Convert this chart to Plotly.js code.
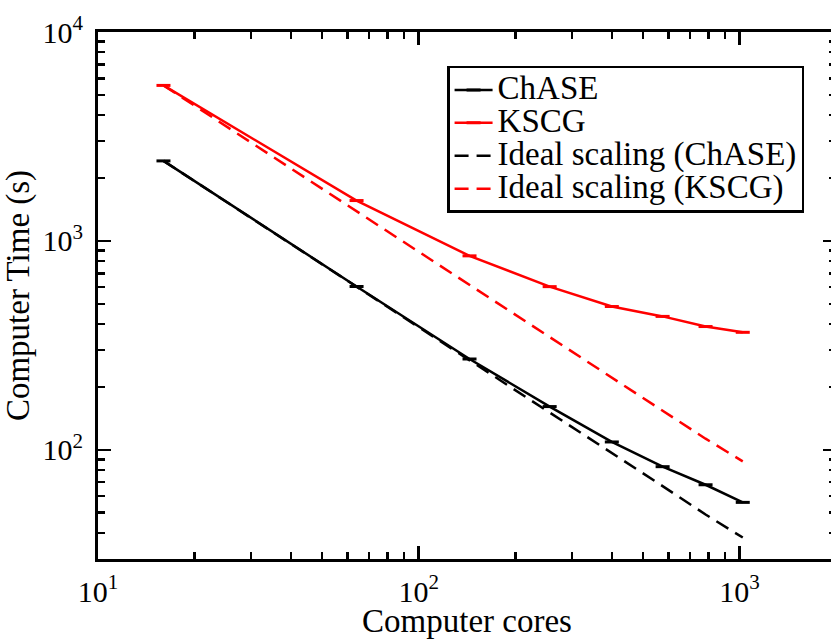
<!DOCTYPE html>
<html>
<head>
<meta charset="utf-8">
<script src="https://cdn.plot.ly/plotly-3.0.1.min.js"></script>
<style>
html, body { margin: 0; padding: 0; overflow: hidden; background: #fff; }
#chart { width: 840px; height: 639px; }
</style>
</head>
<body>
<div id="chart"></div>
<script>
// Data
var cores = [16, 64, 144, 256, 400, 576, 784, 1024];
var chaseTime = [2415, 605, 272, 161, 109, 83, 68, 56];
var kscgTime = [5550, 1560, 848, 604, 485, 435, 389, 365];
var idealChase = [2415, 604, 268, 151, 97, 67, 49, 38];
var idealKscg = [5550, 1390, 617, 347, 222, 154, 113, 88];
var seriesNames = ['ChASE', 'KSCG', 'Ideal scaling (ChASE)', 'Ideal scaling (KSCG)'];

var xTickVals = [10, 100, 1000];
var xTickText = ['10<sup>1</sup>', '10<sup>2</sup>', '10<sup>3</sup>'];
var yTickVals = [100, 1000, 10000];
var yTickText = ['10<sup>2</sup>', '10<sup>3</sup>', '10<sup>4</sup>'];

function minorVals(d0, d1) {
  var v = [];
  for (var d = d0; d <= d1; d++) {
    for (var k = 2; k <= 9; k++) v.push(k * Math.pow(10, d));
  }
  return v;
}

var FONT = "'Liberation Serif', 'Times New Roman', Times, serif";

function legName(s) { return '<span style="font-size:33px">' + s + '</span>'; }

var traces = [
  { x: cores, y: chaseTime, name: legName(seriesNames[0]), mode: 'lines+markers',
    line: { color: '#000000', width: 2.5 },
    marker: { symbol: 'line-ew', size: 10, color: '#000000', line: { color: '#000000', width: 3 } } },
  { x: cores, y: kscgTime, name: legName(seriesNames[1]), mode: 'lines+markers',
    line: { color: '#ff0000', width: 2.5 },
    marker: { symbol: 'line-ew', size: 10, color: '#ff0000', line: { color: '#ff0000', width: 3 } } },
  { x: cores, y: idealChase, name: legName(seriesNames[2]), mode: 'lines',
    line: { color: '#000000', width: 2.5, dash: '14px,8px' } },
  { x: cores, y: idealKscg, name: legName(seriesNames[3]), mode: 'lines',
    line: { color: '#ff0000', width: 2.5, dash: '14px,8px' } }
];

var axisCommon = {
  type: 'log',
  showgrid: false,
  zeroline: false,
  showline: true,
  linecolor: '#000',
  linewidth: 3,
  mirror: 'allticks',
  ticks: 'inside',
  ticklen: 13,
  tickwidth: 2.5,
  tickcolor: '#000',
  tickmode: 'array',
  tickfont: { family: FONT, size: 30, color: '#000' }
};

var layout = {
  width: 840,
  height: 639,
  margin: { l: 98, r: 4, t: 32, b: 80 },
  paper_bgcolor: '#ffffff',
  plot_bgcolor: '#ffffff',
  showlegend: true,
  font: { family: FONT, color: '#000' },
  xaxis: Object.assign({}, axisCommon, {
    range: [1, Math.log10(2000)],
    tickvals: xTickVals,
    ticktext: xTickText,
    ticklabelstandoff: 4,
    minor: { ticks: 'inside', ticklen: 7, tickwidth: 2.5, tickcolor: '#000', tickvals: minorVals(1, 3), showgrid: false },
    title: { text: 'Computer cores', font: { family: FONT, size: 33, color: '#000' }, standoff: 0 }
  }),
  yaxis: Object.assign({}, axisCommon, {
    range: [Math.log10(30), 4],
    tickvals: yTickVals,
    ticktext: yTickText,
    ticklabelstandoff: 6,
    minor: { ticks: 'inside', ticklen: 7, tickwidth: 2.5, tickcolor: '#000', tickvals: minorVals(1, 3), showgrid: false },
    title: { text: 'Computer Time (s)', font: { family: FONT, size: 33, color: '#000' }, standoff: 6 }
  }),
  legend: {
    x: 0.473, y: 0.9355, xanchor: 'left', yanchor: 'top',
    bgcolor: '#ffffff',
    bordercolor: '#000000',
    borderwidth: 2.5,
    itemwidth: 38,
    font: { family: FONT, size: 23, color: '#000' },
    tracegroupgap: 0
  }
};

Plotly.newPlot('chart', traces, layout, { displayModeBar: false, staticPlot: true });
</script>
</body>
</html>
